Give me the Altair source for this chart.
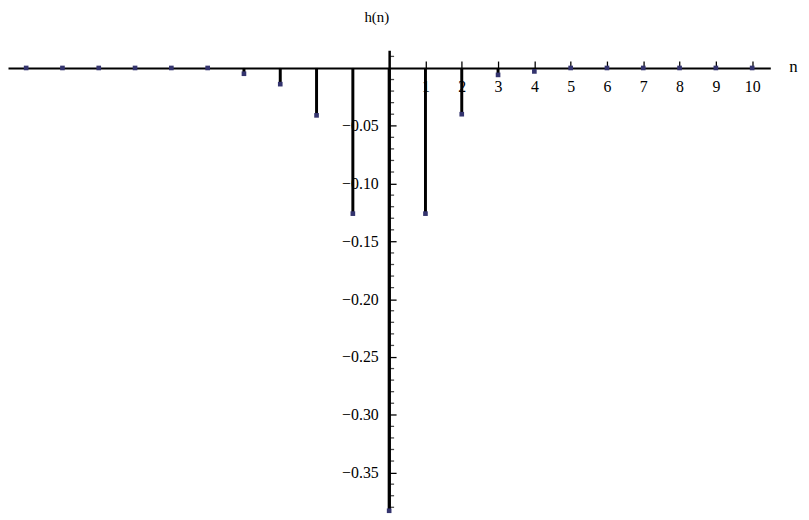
import altair as alt
import pandas as pd

# data
n_values = list(range(-10, 11))
h_values = [0, 0, 0, 0, 0, 0, -0.005, -0.014, -0.041, -0.126, -0.383,
            -0.126, -0.040, -0.006, -0.003, 0, 0, 0, 0, 0, 0]
x_tick_values = list(range(1, 11))
y_major_ticks = [-0.05, -0.10, -0.15, -0.20, -0.25, -0.30, -0.35]
y_minor_ticks = [round(v / 100, 2) for v in range(-38, 2) if v % 5 != 0]

df = pd.DataFrame({"n": n_values, "h": h_values})
minor_df = pd.DataFrame({"n": [0] * len(y_minor_ticks), "h": y_minor_ticks})

W, H = 770, 467
X_DOMAIN = [-10.5, 10.5]
Y_DOMAIN = [-0.3845, 0.0154]
FONT = "Liberation Serif"

xscale = alt.Scale(domain=X_DOMAIN, nice=False, zero=False)
yscale = alt.Scale(domain=Y_DOMAIN, nice=False, zero=False)

x_axis = alt.Axis(
    orient="top", offset=-18, values=x_tick_values, tickSize=7, tickWidth=1.3,
    tickColor="black", domainColor="black", domainWidth=2, grid=False,
    labelPadding=-26, labelBaseline="middle", labelFont=FONT, labelFontSize=16,
    labelColor="black", labelOverlap=False, labelFlush=False,
    title="n", titleX=793, titleY=-1, titleBaseline="middle", titleAlign="center",
    titleAngle=0, titleFont=FONT, titleFontSize=17, titleFontWeight="normal",
    titleColor="black",
)
y_axis = alt.Axis(
    orient="right", offset=-385, values=y_major_ticks, tickSize=7, tickWidth=1.3,
    tickColor="black", domainColor="black", domainWidth=2.5, grid=False,
    labelAlign="right", labelPadding=-18, labelBaseline="middle", format=".2f",
    labelFont=FONT, labelFontSize=16, labelColor="black", labelOverlap=False,
    labelFlush=False,
    title="h(n)", titleX=-13, titleY=-34, titleAngle=0, titleAlign="center",
    titleBaseline="middle", titleFont=FONT, titleFontSize=15,
    titleFontWeight="normal", titleColor="black",
)

X = alt.X("n:Q", scale=xscale, axis=x_axis)
Y = alt.Y("h:Q", scale=yscale, axis=y_axis)

stems = alt.Chart(df).mark_rule(color="black", strokeWidth=3).encode(
    x=X, y=Y, y2=alt.datum(0),
)

tips = alt.Chart(df).mark_square(color="#34346e", size=22, opacity=1).encode(
    x=X, y=Y,
)

minor = alt.Chart(minor_df).mark_tick(
    orient="horizontal", size=4, thickness=1.3, color="black", xOffset=3
).encode(x=X, y=Y)

chart = alt.layer(stems, minor, tips).properties(
    width=W, height=H,
    background="white",
    autosize=alt.AutoSizeParams(type="none"),
    padding={"left": 0, "top": 40, "right": 31, "bottom": 5},
).configure_view(stroke=None)

chart.save("out.html", embed_options={"renderer": "svg", "actions": False})
